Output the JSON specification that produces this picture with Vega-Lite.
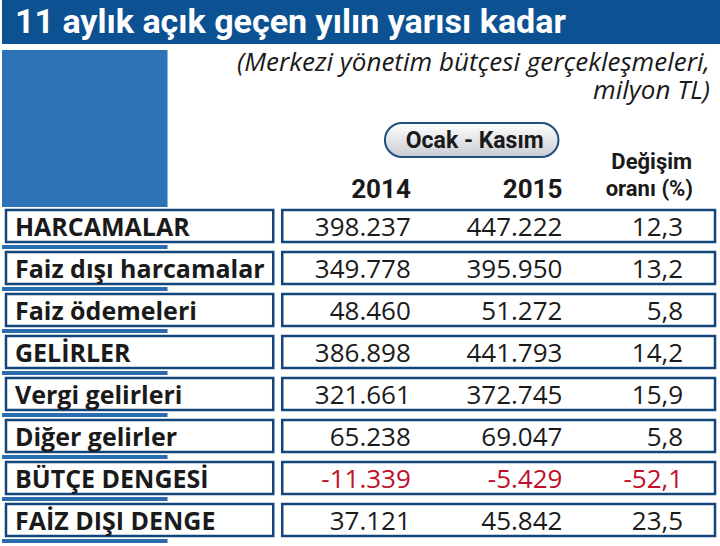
{
  "$schema": "https://vega.github.io/schema/vega-lite/v6.json",
  "width": 720,
  "height": 546,
  "padding": 0,
  "autosize": {"type": "fit", "contains": "padding"},
  "background": "white",
  "config": {
    "view": {"stroke": null},
    "locale": {
      "number": {"decimal": ",", "thousands": ".", "grouping": [3], "currency": ["", " TL"], "minus": "-"}
    }
  },
  "datasets": {
    "butce": [
      {"kalem": "HARCAMALAR", "y2014": 398237, "y2015": 447222, "degisim": 12.3},
      {"kalem": "Faiz dışı harcamalar", "y2014": 349778, "y2015": 395950, "degisim": 13.2},
      {"kalem": "Faiz ödemeleri", "y2014": 48460, "y2015": 51272, "degisim": 5.8},
      {"kalem": "GELİRLER", "y2014": 386898, "y2015": 441793, "degisim": 14.2},
      {"kalem": "Vergi gelirleri", "y2014": 321661, "y2015": 372745, "degisim": 15.9},
      {"kalem": "Diğer gelirler", "y2014": 65238, "y2015": 69047, "degisim": 5.8},
      {"kalem": "BÜTÇE DENGESİ", "y2014": -11339, "y2015": -5429, "degisim": -52.1},
      {"kalem": "FAİZ DIŞI DENGE", "y2014": 37121, "y2015": 45842, "degisim": 23.5}
    ],
    "baslik": [{"id": 1}]
  },
  "layer": [
    {
      "data": {"name": "baslik"},
      "encoding": {
        "y": {"datum": 0, "type": "quantitative", "scale": {"domain": [0, 546], "reverse": true, "nice": false, "zero": false}, "axis": null}
      },
      "layer": [
        {
          "mark": {"type": "rect", "fill": "#0c5293"},
          "encoding": {
            "x": {"datum": 0, "type": "quantitative", "scale": {"domain": [0, 720], "nice": false, "zero": false}, "axis": null},
            "x2": {"datum": 720},
            "y": {"datum": 0, "type": "quantitative"},
            "y2": {"datum": 44}
          }
        },
        {
          "mark": {"type": "rect", "fill": "#2e73b6"},
          "encoding": {
            "x": {"datum": 0, "type": "quantitative"},
            "x2": {"datum": 166},
            "y": {"datum": 50, "type": "quantitative"},
            "y2": {"datum": 207}
          }
        },
        {
          "mark": {"type": "text", "text": "11 aylık açık geçen yılın yarısı kadar", "align": "left", "baseline": "alphabetic", "font": "Roboto", "fontWeight": "bold", "fontSize": 34, "fill": "white"},
          "encoding": {
            "x": {"datum": 13, "type": "quantitative"},
            "y": {"datum": 33, "type": "quantitative"}
          }
        },
        {
          "mark": {"type": "text", "text": "(Merkezi yönetim bütçesi gerçekleşmeleri,", "align": "right", "baseline": "alphabetic", "font": "Open Sans", "fontStyle": "italic", "fontSize": 26, "fill": "#1a1a1a"},
          "encoding": {
            "x": {"datum": 710, "type": "quantitative"},
            "y": {"datum": 71, "type": "quantitative"}
          }
        },
        {
          "mark": {"type": "text", "text": "milyon TL)", "align": "right", "baseline": "alphabetic", "font": "Open Sans", "fontStyle": "italic", "fontSize": 26, "fill": "#1a1a1a"},
          "encoding": {
            "x": {"datum": 710, "type": "quantitative"},
            "y": {"datum": 99, "type": "quantitative"}
          }
        },
        {
          "mark": {
            "type": "rect", "cornerRadius": 17, "stroke": "#1d4f80", "strokeWidth": 2,
            "fill": {"gradient": "linear", "x1": 0, "y1": 0, "x2": 0, "y2": 1, "stops": [{"offset": 0, "color": "#ffffff"}, {"offset": 1, "color": "#c8ccd2"}]}
          },
          "encoding": {
            "x": {"datum": 384, "type": "quantitative"},
            "x2": {"datum": 558},
            "y": {"datum": 123, "type": "quantitative"},
            "y2": {"datum": 157}
          }
        },
        {
          "mark": {"type": "text", "text": "Ocak - Kasım", "align": "center", "baseline": "alphabetic", "font": "Roboto", "fontWeight": "bold", "fontSize": 23, "fill": "#1a1a1a"},
          "encoding": {
            "x": {"datum": 474, "type": "quantitative"},
            "y": {"datum": 148, "type": "quantitative"}
          }
        },
        {
          "mark": {"type": "text", "text": "2014", "align": "right", "baseline": "alphabetic", "font": "Roboto", "fontWeight": "bold", "fontSize": 26, "fill": "#1a1a1a"},
          "encoding": {
            "x": {"datum": 410, "type": "quantitative"},
            "y": {"datum": 198, "type": "quantitative"}
          }
        },
        {
          "mark": {"type": "text", "text": "2015", "align": "right", "baseline": "alphabetic", "font": "Roboto", "fontWeight": "bold", "fontSize": 26, "fill": "#1a1a1a"},
          "encoding": {
            "x": {"datum": 562, "type": "quantitative"},
            "y": {"datum": 198, "type": "quantitative"}
          }
        },
        {
          "mark": {"type": "text", "text": "Değişim", "align": "right", "baseline": "alphabetic", "font": "Roboto", "fontWeight": "bold", "fontSize": 22, "fill": "#1a1a1a"},
          "encoding": {
            "x": {"datum": 692, "type": "quantitative"},
            "y": {"datum": 169, "type": "quantitative"}
          }
        },
        {
          "mark": {"type": "text", "text": "oranı (%)", "align": "right", "baseline": "alphabetic", "font": "Roboto", "fontWeight": "bold", "fontSize": 22, "fill": "#1a1a1a"},
          "encoding": {
            "x": {"datum": 693, "type": "quantitative"},
            "y": {"datum": 196, "type": "quantitative"}
          }
        }
      ]
    },
    {
      "data": {"name": "butce"},
      "encoding": {
        "y": {"field": "kalem", "type": "nominal", "sort": null, "scale": {"range": [210, 536], "paddingInner": 0.2381, "paddingOuter": 0}, "axis": null}
      },
      "layer": [
        {
          "mark": {"type": "rule", "stroke": "#2b6cb0", "strokeWidth": 4, "strokeCap": "butt", "yOffset": 5},
          "encoding": {
            "x": {"datum": 0, "type": "quantitative"},
            "x2": {"datum": 166},
            "y": {"field": "kalem", "type": "nominal", "sort": null, "bandPosition": 1}
          }
        },
        {
          "mark": {"type": "rect", "fill": "white", "stroke": "#12467a", "strokeWidth": 2.5},
          "encoding": {
            "x": {"datum": 4, "type": "quantitative"},
            "x2": {"datum": 272}
          }
        },
        {
          "mark": {"type": "rect", "fill": "white", "stroke": "#12467a", "strokeWidth": 2.5},
          "encoding": {
            "x": {"datum": 281, "type": "quantitative"},
            "x2": {"datum": 715}
          }
        },
        {
          "mark": {"type": "text", "align": "left", "baseline": "alphabetic", "dy": 10, "font": "Open Sans", "fontWeight": "bold", "fontSize": 25, "fill": "#1a1a1a"},
          "encoding": {
            "x": {"datum": 13, "type": "quantitative"},
            "text": {"field": "kalem", "type": "nominal"}
          }
        },
        {
          "mark": {"type": "text", "align": "right", "baseline": "alphabetic", "dy": 10, "font": "Open Sans", "fontSize": 26},
          "encoding": {
            "x": {"datum": 410, "type": "quantitative"},
            "text": {"field": "y2014", "type": "quantitative", "format": ",.0f"},
            "color": {"condition": {"test": "datum.y2014 < 0", "value": "#c0102a"}, "value": "#1a1a1a"}
          }
        },
        {
          "mark": {"type": "text", "align": "right", "baseline": "alphabetic", "dy": 10, "font": "Open Sans", "fontSize": 26},
          "encoding": {
            "x": {"datum": 562, "type": "quantitative"},
            "text": {"field": "y2015", "type": "quantitative", "format": ",.0f"},
            "color": {"condition": {"test": "datum.y2015 < 0", "value": "#c0102a"}, "value": "#1a1a1a"}
          }
        },
        {
          "mark": {"type": "text", "align": "right", "baseline": "alphabetic", "dy": 10, "font": "Open Sans", "fontSize": 26},
          "encoding": {
            "x": {"datum": 683, "type": "quantitative"},
            "text": {"field": "degisim", "type": "quantitative", "format": ".1f"},
            "color": {"condition": {"test": "datum.degisim < 0", "value": "#c0102a"}, "value": "#1a1a1a"}
          }
        }
      ]
    }
  ],
  "resolve": {"scale": {"y": "independent"}}
}
